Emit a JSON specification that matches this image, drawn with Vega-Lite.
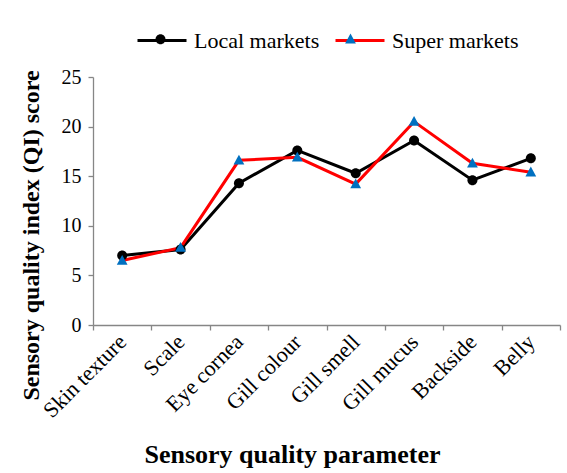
{
  "$schema": "https://vega.github.io/schema/vega-lite/v6.json",
  "width": 467,
  "height": 248,
  "autosize": {"type": "none"},
  "padding": {"left": 93, "top": 77, "right": 7, "bottom": 148},
  "background": "white",
  "config": {
    "font": "Liberation Serif",
    "view": {"stroke": null},
    "axis": {
      "domainColor": "#868686",
      "tickColor": "#868686",
      "domainWidth": 1.3,
      "tickWidth": 1.3,
      "tickSize": 5,
      "grid": false,
      "labelColor": "#000000",
      "labelFont": "Liberation Serif",
      "labelFontSize": 20,
      "titleColor": "#000000",
      "titleFont": "Liberation Serif",
      "titleFontSize": 24,
      "titleFontWeight": "bold"
    },
    "legend": {
      "labelFont": "Liberation Serif",
      "labelFontSize": 22,
      "labelColor": "#000000"
    }
  },
  "data": {
    "values": [
      {"param": "Skin texture", "market": "Local markets", "value": 7.0},
      {"param": "Scale", "market": "Local markets", "value": 7.6},
      {"param": "Eye cornea", "market": "Local markets", "value": 14.3},
      {"param": "Gill colour", "market": "Local markets", "value": 17.6},
      {"param": "Gill smell", "market": "Local markets", "value": 15.3},
      {"param": "Gill mucus", "market": "Local markets", "value": 18.6},
      {"param": "Backside", "market": "Local markets", "value": 14.6},
      {"param": "Belly", "market": "Local markets", "value": 16.8},
      {"param": "Skin texture", "market": "Super markets", "value": 6.5},
      {"param": "Scale", "market": "Super markets", "value": 7.8},
      {"param": "Eye cornea", "market": "Super markets", "value": 16.6},
      {"param": "Gill colour", "market": "Super markets", "value": 16.9},
      {"param": "Gill smell", "market": "Super markets", "value": 14.2},
      {"param": "Gill mucus", "market": "Super markets", "value": 20.5},
      {"param": "Backside", "market": "Super markets", "value": 16.3},
      {"param": "Belly", "market": "Super markets", "value": 15.4}
    ]
  },
  "encoding": {
    "x": {
      "field": "param",
      "type": "nominal",
      "sort": null,
      "scale": {"type": "band", "paddingInner": 0, "paddingOuter": 0},
      "axis": {
        "title": "Sensory quality parameter",
        "labelAngle": -45,
        "labelAlign": "right",
        "labelBaseline": "middle",
        "labelFontSize": 22,
        "labelPadding": 8,
        "tickBand": "extent",
        "titleFontSize": 26,
        "titleX": 199,
        "titleY": 137,
        "titleBaseline": "alphabetic",
        "titleAnchor": "middle",
        "titleAlign": "center"
      }
    },
    "y": {
      "field": "value",
      "type": "quantitative",
      "scale": {"domain": [0, 25]},
      "axis": {
        "title": "Sensory quality index (QI) score",
        "values": [0, 5, 10, 15, 20, 25],
        "labelPadding": 7,
        "titleX": -55,
        "titleY": 158,
        "titleAngle": -90,
        "titleBaseline": "alphabetic",
        "titleAlign": "center"
      }
    }
  },
  "layer": [
    {
      "mark": {"type": "line", "strokeWidth": 3},
      "encoding": {
        "color": {
          "field": "market",
          "type": "nominal",
          "scale": {"domain": ["Local markets", "Super markets"], "range": ["#000000", "#FF0000"]},
          "legend": {
            "title": null,
            "orient": "none",
            "direction": "horizontal",
            "legendX": 43,
            "legendY": -62.5,
            "symbolType": "M-1,0L1,0",
            "symbolSize": 2401,
            "symbolStrokeWidth": 3,
            "labelOffset": 6,
            "columnPadding": 9,
            "padding": 0
          }
        }
      }
    },
    {
      "mark": {"type": "point", "filled": true, "size": 2401, "opacity": 1, "strokeWidth": 0},
      "encoding": {
        "fill": {
          "field": "market",
          "type": "nominal",
          "scale": {"range": ["#000000", "#0070C0"]},
          "legend": {
            "title": null,
            "orient": "none",
            "direction": "horizontal",
            "legendX": 43,
            "legendY": -62.5,
            "symbolSize": 2401,
            "symbolStrokeWidth": 0,
            "labelOffset": 6,
            "columnPadding": 9,
            "padding": 0,
            "labelOpacity": 0
          }
        },
        "shape": {
          "field": "market",
          "type": "nominal",
          "scale": {
            "range": ["M-0.204,0A0.204,0.204,0,1,1,0.204,0A0.204,0.204,0,1,1,-0.204,0Z", "M0,-0.23L0.22,0.17L-0.22,0.17Z"]
          },
          "legend": {
            "title": null,
            "orient": "none",
            "direction": "horizontal",
            "legendX": 43,
            "legendY": -62.5,
            "symbolSize": 2401,
            "symbolStrokeWidth": 0,
            "labelOffset": 6,
            "columnPadding": 9,
            "padding": 0,
            "labelOpacity": 0
          }
        }
      }
    }
  ]
}
